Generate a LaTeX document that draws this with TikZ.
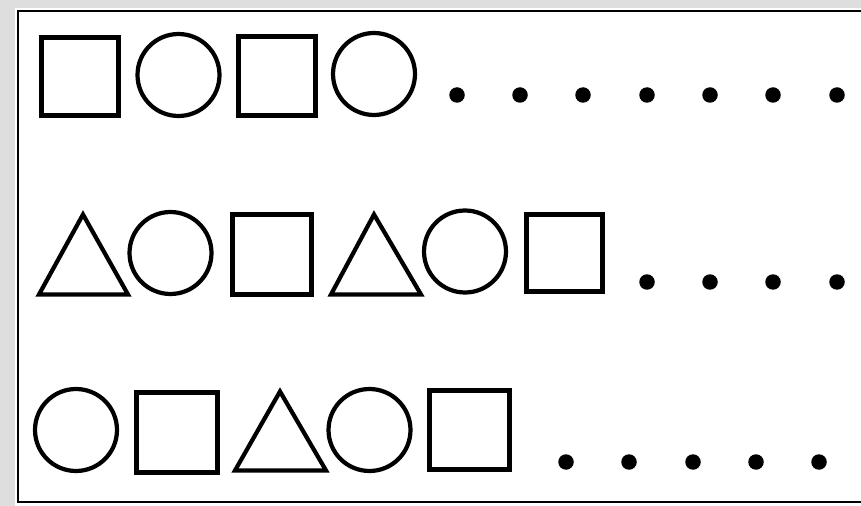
\documentclass[tikz,border=0pt]{standalone}
\definecolor{GrisFond}{RGB}{222,222,222}
\tikzset{forme/.style={draw=black, line width=2.4pt}}
\tikzset{rond/.style={forme, radius=0.82cm}}
\tikzset{point/.style={fill=black, radius=0.155cm}}
\tikzset{cadre/.style={draw=black, line width=1.3pt}}

\begin{document}
\begin{tikzpicture}[x=0.02cm, y=-0.02cm]
\useasboundingbox (0,0) rectangle (861,506);
\fill[GrisFond] (0,0) rectangle (861,506);
\fill[white] (15,8) rectangle (861,506);
\draw[cadre] (861,11) -- (18,11) -- (18,502) -- (861,502);
% ligne 1
\draw[forme] (41.5,37.5) rectangle (118.5,115.5);
\draw[rond] (178.5,75) circle;
\draw[forme] (238.5,36.5) rectangle (315.5,115.5);
\draw[rond] (374,74) circle;
\foreach \x in {457,520,583,647,710,773,837}
  \fill[point] (\x,95) circle;
% ligne 2
\draw[forme] (39,294.5) -- (83,214.5) -- (128,294.5) -- cycle;
\draw[rond] (170.5,253) circle;
\draw[forme] (232.5,214.5) rectangle (311.5,294.5);
\draw[forme] (331,294.5) -- (374,214.5) -- (421,294.5) -- cycle;
\draw[rond] (465,251.5) circle;
\draw[forme] (526.5,214.5) rectangle (602.5,291.5);
\foreach \x in {647,710,773,837}
  \fill[point] (\x,282) circle;
% ligne 3
\draw[rond] (76,430) circle;
\draw[forme] (136.5,392.5) rectangle (217.5,472.5);
\draw[forme] (235,470.5) -- (280,391.5) -- (326,470.5) -- cycle;
\draw[rond] (369.5,430) circle;
\draw[forme] (429.5,390.5) rectangle (509.5,469.5);
\foreach \x in {566,629,693,756,819}
  \fill[point] (\x,462) circle;
\end{tikzpicture}
\end{document}
